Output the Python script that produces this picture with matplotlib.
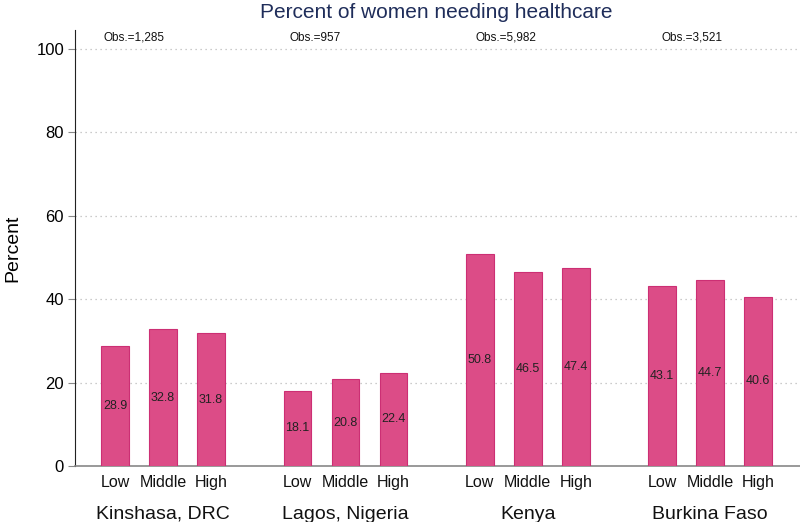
import numpy as np
import matplotlib
matplotlib.use("Agg")
import matplotlib.pyplot as plt

plt.rcParams["font.family"] = ["Liberation Sans", "DejaVu Sans"]

sites = ["Kinshasa, DRC", "Lagos, Nigeria", "Kenya", "Burkina Faso"]
levels = ["Low", "Middle", "High"]
values = [
    [28.9, 32.8, 31.8],
    [18.1, 20.8, 22.4],
    [50.8, 46.5, 47.4],
    [43.1, 44.7, 40.6],
]
obs = ["Obs.=1,285", "Obs.=957", "Obs.=5,982", "Obs.=3,521"]

bar_color = "#dc4c87"
edge_color = "#cc2f74"
group_step = 3.8

fig = plt.figure(figsize=(8, 5.22), dpi=100)
ax = fig.add_axes([0.094, 0.107, 0.906, 0.8355])

for g, site in enumerate(sites):
    xs = g * group_step + np.arange(len(levels))
    ax.bar(xs, values[g], width=0.58, color=bar_color, edgecolor=edge_color, lw=0.8, zorder=3)
    for i, (x, v) in enumerate(zip(xs, values[g])):
        # value label sits half way up the bar
        ax.text(x, v / 2, "%.1f" % v, ha="center", va="center", fontsize=9, color="#222222", zorder=4)
        ax.text(x, -2.2, levels[i], ha="center", va="top", fontsize=11.5, color="#111111")
    ax.text(xs[1], -9.5, site, ha="center", va="top", fontsize=14, color="#111111")
    ax.text(g * 3.88 - 0.25, 101.2, obs[g], ha="left", va="bottom", fontsize=8.5, color="#111111")

ax.set_xlim(-0.83, 14.27)
ax.set_ylim(0, 104.5)
ax.set_yticks([0, 20, 40, 60, 80, 100])
ax.set_xticks([])
ax.tick_params(axis="y", labelsize=12, length=5, color="#888888", pad=3)
ax.yaxis.grid(True, ls=(0, (1, 3)), color="#bbbbbb", lw=0.9, zorder=0)
ax.set_ylabel("Percent", fontsize=14, labelpad=11)

for s in ["top", "right"]:
    ax.spines[s].set_visible(False)
ax.spines["left"].set_color("#222222")
ax.spines["bottom"].set_color("#888888")
ax.spines["bottom"].set_linewidth(1.2)

fig.text(0.545, 0.977, "Percent of women needing healthcare", ha="center", va="center",
         fontsize=15, color="#1f2d5a")

fig.savefig("out.png", dpi=100)
